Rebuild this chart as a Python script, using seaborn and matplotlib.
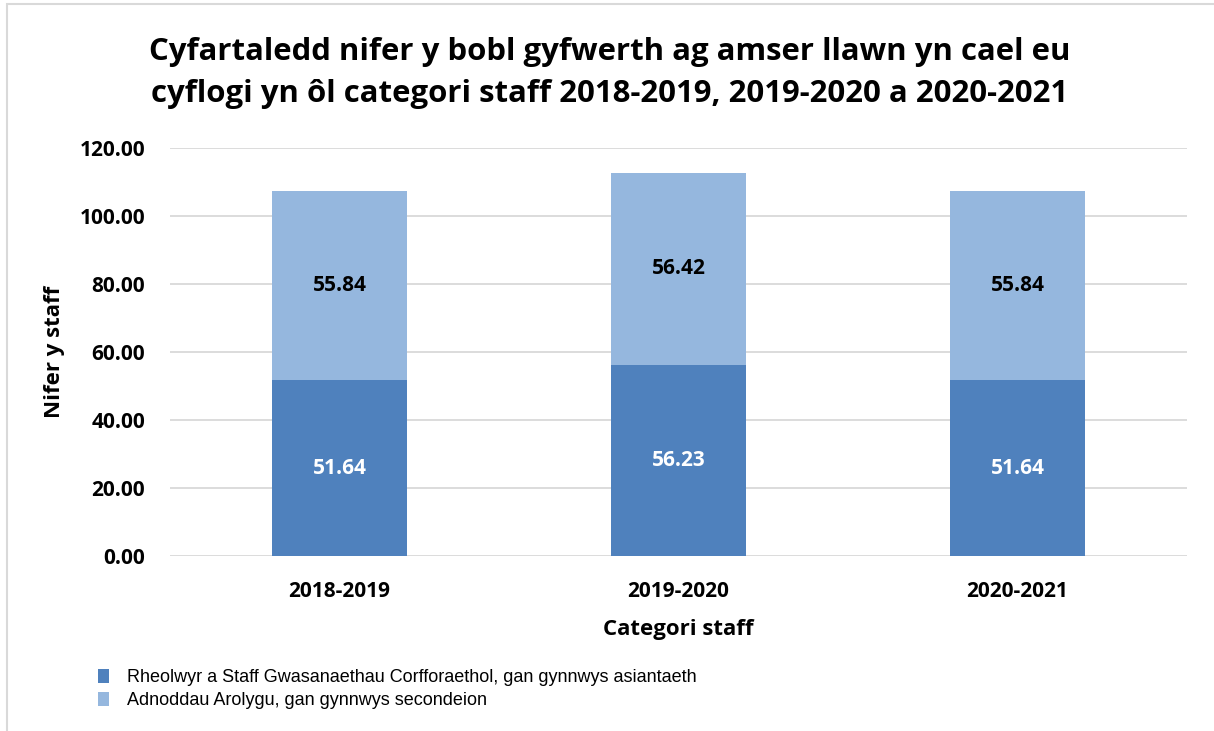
import matplotlib
matplotlib.use("Agg")
import matplotlib.pyplot as plt
import seaborn as sns
import pandas as pd
from matplotlib.patches import Patch, Rectangle

categories = ["2018-2019", "2019-2020", "2020-2021"]
rheolwyr = [51.64, 56.23, 51.64]
adnoddau = [55.84, 56.42, 55.84]
series_names = ["Rheolwyr a Staff Gwasanaethau Corfforaethol, gan gynnwys asiantaeth",
                "Adnoddau Arolygu, gan gynnwys secondeion"]
yticks = [0, 20, 40, 60, 80, 100, 120]

dark = "#4F81BD"
light = "#95B7DE"

sns.set_theme(style="white")
bold_font = ["Open Sans", "DejaVu Sans"]
plt.rcParams['font.family'] = bold_font
plt.rcParams['text.color'] = "black"
plt.rcParams['axes.labelcolor'] = "black"
plt.rcParams['xtick.color'] = "black"
plt.rcParams['ytick.color'] = "black"

df = pd.DataFrame({"cat": categories, "r": rheolwyr, "a": adnoddau})

fig = plt.figure(figsize=(12.14, 7.31), dpi=100)
ax = fig.add_axes([170/1214, 1-556/731, (1187-170)/1214, (556-148)/731])

sns.barplot(data=df, x="cat", y="r", color=dark, saturation=1, width=0.4, ax=ax,
            zorder=3, linewidth=0, edgecolor="none")
sns.barplot(data=df, x="cat", y="a", color=light, saturation=1, width=0.4, ax=ax,
            bottom=df["r"].values, zorder=3, linewidth=0, edgecolor="none")

for i, (r, a) in enumerate(zip(rheolwyr, adnoddau)):
    ax.text(i, r/2, f"{r:.2f}", ha="center", va="center", color="white",
            fontsize=15, fontweight="bold", zorder=4)
    ax.text(i, r + a/2, f"{a:.2f}", ha="center", va="center", color="black",
            fontsize=15, fontweight="bold", zorder=4)

ax.set_ylim(0, 120)
ax.set_xlim(-0.5, 2.5)
ax.set_yticks(yticks)
ax.set_yticklabels([f"{v:.2f}" for v in yticks], fontsize=15, fontweight="bold")
ax.set_xticks(range(len(categories)))
ax.set_xticklabels(categories, fontsize=15, fontweight="bold")
ax.tick_params(axis="y", length=0, pad=18)
ax.tick_params(axis="x", length=0, pad=18)
ax.yaxis.grid(True, color="#D9D9D9", linewidth=1.3, zorder=0)
for s in ax.spines.values():
    s.set_visible(False)
ax.set_xlabel("Categori staff", fontsize=16, fontweight="bold", labelpad=12)
ax.set_ylabel("Nifer y staff", fontsize=16, fontweight="bold", labelpad=10)

fig.text(610/1214, 1-73/731,
         "Cyfartaledd nifer y bobl gyfwerth ag amser llawn yn cael eu\n"
         "cyflogi yn ôl categori staff 2018-2019, 2019-2020 a 2020-2021",
         ha="center", va="center", fontsize=22.4, fontweight="bold", linespacing=1.5)

handles = [Patch(facecolor=dark, edgecolor="none"), Patch(facecolor=light, edgecolor="none")]
fig.legend(handles, series_names, loc="upper left", bbox_to_anchor=(91/1214, 1-662/731),
           frameon=False, prop={"family": "Liberation Sans", "size": 13},
           handlelength=0.6, handleheight=0.8, handletextpad=1.0, labelspacing=0.3,
           borderaxespad=0)

fig.patches.append(Rectangle((7/1214, -0.1), 1.2, 1 - 4/731 + 0.1, transform=fig.transFigure,
                             fill=False, edgecolor="#D9D9D9", linewidth=1.5))

fig.savefig("out.png", dpi=100)
